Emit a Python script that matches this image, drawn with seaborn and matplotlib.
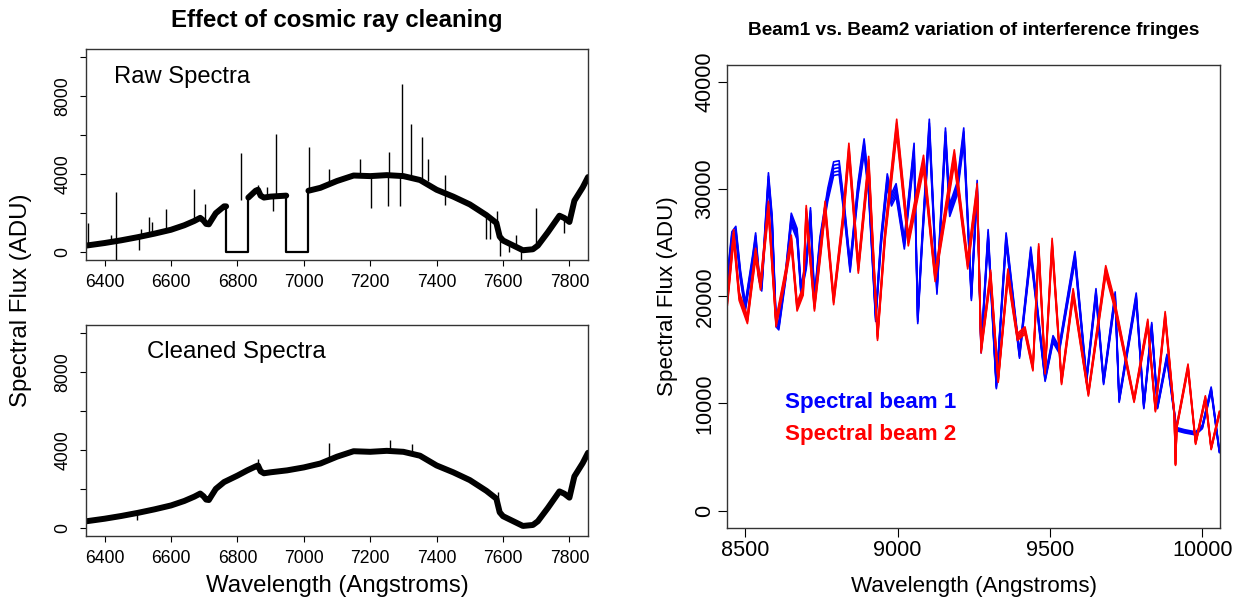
import numpy as np
import pandas as pd
import matplotlib
matplotlib.use("Agg")
import matplotlib.pyplot as plt
import seaborn as sns

# ---------------- data: left panels (continuum of the stellar spectrum) ----------------
cont_w = [6345, 6400, 6450, 6500, 6550, 6600, 6640, 6670, 6688, 6698,
          6706, 6714, 6722, 6735, 6760, 6800, 6830, 6855, 6862, 6870,
          6880, 6900, 6950, 7000, 7050, 7100, 7150, 7200, 7250, 7300,
          7350, 7400, 7450, 7500, 7550, 7580, 7590, 7600, 7630, 7660,
          7690, 7705, 7735, 7770, 7785, 7800, 7815, 7840, 7856]
cont_f = [340, 470, 610, 770, 950, 1150, 1380, 1600, 1760, 1620,
          1450, 1430, 1650, 2000, 2350, 2680, 2950, 3150, 3200, 2900,
          2800, 2850, 2950, 3100, 3300, 3650, 3930, 3900, 3950, 3900,
          3700, 3200, 2850, 2450, 1900, 1500, 800, 600, 350, 100,
          150, 340, 1020, 1870, 1750, 1550, 2640, 3320, 3850]

# zeroed (bad) stretches in the raw frame
gap_start = [6766, 6947]
gap_end = [6833, 7014]
gap_left_level = [2350, 2900]
gap_right_level = [2800, 3150]

# cosmic-ray hits in the raw frame: wavelength, low end, high end
raw_spike_w = [6351, 6420, 6434, 6434, 6504, 6511, 6533, 6543, 6586, 6668,
               6701, 6811, 6862, 6889, 6906, 6917, 7016, 7077, 7168, 7203,
               7257, 7255, 7290, 7296, 7324, 7356, 7374, 7424, 7425, 7548,
               7561, 7581, 7591, 7617, 7640, 7655, 7700, 7783]
raw_spike_lo = [350, 560, 600, -400, 100, 780, 860, 880, 1060, 1600,
                1600, 2700, 3150, 2850, 2100, 2880, 3150, 3500, 3920, 2270,
                3920, 2350, 2390, 3900, 3850, 3700, 3650, 3200, 2440, 690,
                690, 1500, -170, 0, 300, -380, 300, 990]
raw_spike_hi = [1500, 900, 3080, 600, 760, 1200, 1780, 1570, 2220, 3250,
                2450, 5080, 3460, 3330, 2860, 6070, 5380, 4270, 4790, 3920,
                5140, 3920, 3920, 8600, 6580, 5930, 4800, 3970, 3200, 1950,
                1800, 2100, 800, 450, 900, 120, 2250, 1750]

# residual features in the cleaned frame
clean_spike_w = [6498, 6862, 7075, 7261, 7325, 7584]
clean_spike_lo = [390, 3150, 3550, 3950, 3880, 1450]
clean_spike_hi = [780, 3550, 4330, 4500, 4300, 1850]

# ---------------- data: right panel (fringing, two beams) ----------------
beam1_w = [8441, 8456, 8469, 8484, 8500, 8525, 8534, 8544, 8554, 8565,
           8576, 8588, 8601, 8610, 8632, 8651, 8670, 8683, 8700, 8714,
           8727, 8745, 8771, 8790, 8808, 8825, 8844, 8870, 8890, 8905,
           8928, 8945, 8966, 8980, 8995, 9022, 9054, 9066, 9080, 9104,
           9129, 9157, 9171, 9195, 9217, 9242, 9261, 9274, 9297, 9324,
           9356, 9400, 9437, 9484, 9510, 9530, 9582, 9620, 9651, 9676,
           9714, 9727, 9783, 9808, 9834, 9853, 9884, 9915, 9941, 9978,
           10000, 10029, 10056]
beam1_f = [21500, 25500, 26000, 22000, 19000, 23500, 25400, 22100, 20900, 26000,
           30900, 27000, 17500, 17200, 21800, 27200, 25800, 20500, 23000, 27700,
           19600, 25000, 29500, 31900, 32000, 28000, 22700, 30000, 34000, 30000,
           18000, 25000, 30800, 29000, 29900, 24900, 33600, 17800, 25000, 35800,
           20600, 35000, 28000, 30000, 35000, 20000, 30200, 15000, 25700, 11600,
           25400, 14500, 24100, 12300, 16000, 15000, 23700, 12200, 20300, 12000,
           20000, 10300, 19900, 9700, 17200, 9700, 14300, 7600, 7400, 7200,
           7800, 11300, 5500]

beam2_w = [8441, 8462, 8480, 8507, 8525, 8534, 8550, 8576, 8601, 8632,
           8651, 8670, 8690, 8700, 8727, 8750, 8762, 8790, 8820, 8840,
           8871, 8905, 8934, 8959, 8997, 9035, 9085, 9123, 9186, 9230,
           9261, 9274, 9305, 9330, 9362, 9393, 9418, 9444, 9463, 9484,
           9507, 9538, 9576, 9626, 9683, 9710, 9776, 9821, 9846, 9878,
           9908, 9912, 9916, 9953, 9978, 10010, 10029, 10056]
beam2_f = [19500, 25700, 20000, 17800, 22000, 24000, 21000, 28300, 17500, 22000,
           25200, 19000, 20500, 27900, 19000, 25000, 28300, 19600, 27000, 33600,
           22600, 32400, 16200, 25800, 35800, 25200, 32500, 21800, 33000, 23000,
           29900, 15000, 22000, 12200, 22100, 16200, 16800, 13300, 24400, 13000,
           24900, 12000, 20300, 10900, 22400, 19500, 10300, 17500, 9400, 18200,
           9000, 4300, 7800, 13400, 6300, 10500, 5800, 9100]

exposure_level = [0.98, 0.99, 1.0, 1.01, 1.02]

# ---------------- style ----------------
sns.set_style("ticks")
plt.rcParams["font.family"] = ["Liberation Sans", "DejaVu Sans"]
plt.rcParams["axes.linewidth"] = 1.0
plt.rcParams["text.color"] = "black"
plt.rcParams["axes.labelcolor"] = "black"
plt.rcParams["xtick.color"] = "black"
plt.rcParams["ytick.color"] = "black"

W, H = 1242, 599
fig = plt.figure(figsize=(W / 100, H / 100), dpi=100)


def fx(x):
    return x / W


def fy(y):
    return 1 - y / H


ax1 = fig.add_axes([fx(86), fy(260), (588 - 86) / W, (260 - 49.3) / H])
ax2 = fig.add_axes([fx(86), fy(535.7), (588 - 86) / W, (535.7 - 325) / H])
ax3 = fig.add_axes([fx(727.3), fy(527.7), (1220 - 727.3) / W, (527.7 - 64.7) / H])

# ---- raw spectrum: continuum split around the zeroed stretches ----
seg_rows = []
for w, f in zip(cont_w, cont_f):
    inside = any(g0 < w < g1 for g0, g1 in zip(gap_start, gap_end))
    if not inside:
        s = sum(1 for g0 in gap_start if w > g0)
        seg_rows.append((w, f, s))
for i, (g0, g1) in enumerate(zip(gap_start, gap_end)):
    seg_rows.append((g0, gap_left_level[i], i))
    seg_rows.append((g1, gap_right_level[i], i + 1))
raw_df = pd.DataFrame(seg_rows, columns=["w", "flux", "seg"]).sort_values(["seg", "w"])

sns.lineplot(data=raw_df, x="w", y="flux", units="seg", estimator=None, sort=False,
             color="black", lw=4.3, ax=ax1, legend=False)

gap_rows = []
for i, (g0, g1) in enumerate(zip(gap_start, gap_end)):
    gap_rows += [(g0, gap_left_level[i], i), (g0, 0, i), (g1, 0, i),
                 (g1, gap_right_level[i], i)]
gap_df = pd.DataFrame(gap_rows, columns=["w", "flux", "gap"])
sns.lineplot(data=gap_df, x="w", y="flux", units="gap", estimator=None, sort=False,
             color="black", lw=1.6, ax=ax1, legend=False)
ax1.vlines(raw_spike_w, raw_spike_lo, raw_spike_hi, color="black", lw=1.0)

# ---- cleaned spectrum ----
clean_df = pd.DataFrame({"w": cont_w, "flux": cont_f})
sns.lineplot(data=clean_df, x="w", y="flux", estimator=None, sort=False,
             color="black", lw=4.3, ax=ax2, legend=False)
ax2.vlines(clean_spike_w, clean_spike_lo, clean_spike_hi, color="black", lw=1.0)

for ax in (ax1, ax2):
    ax.set_xlim(6344, 7856)
    ax.set_ylim(-400, 10400)
    ax.set_xticks(range(6400, 7801, 200))
    ax.set_xticklabels([str(v) for v in range(6400, 7801, 200)])
    ax.set_yticks(range(0, 10001, 2000))
    ax.set_yticklabels(["0", "", "4000", "", "8000", ""], rotation=90, va="center")
    ax.tick_params(direction="out", length=4.3, width=0.8, labelsize=12.7, pad=6,
                   colors="black")
    ax.set_xlabel("")
    ax.set_ylabel("")
    for sp in ax.spines.values():
        sp.set_visible(True)
        sp.set_color("#333333")

# ---- fringes ----
frames = []
for beam, ws, fs in (("beam1", beam1_w, beam1_f), ("beam2", beam2_w, beam2_f)):
    for j, lev in enumerate(exposure_level):
        frames.append(pd.DataFrame({"w": ws, "flux": np.array(fs) * lev,
                                    "beam": beam, "exposure": f"{beam}_{j}"}))
fr_df = pd.concat(frames, ignore_index=True)
sns.lineplot(data=fr_df, x="w", y="flux", hue="beam", units="exposure",
             estimator=None, sort=False, palette={"beam1": "#0000ff", "beam2": "#ff0000"},
             hue_order=["beam1", "beam2"], lw=1.2, ax=ax3, legend=False)
ax3.set_xlim(8441, 10058)
ax3.set_ylim(-1600, 41600)
ax3.set_xticks([8500, 9000, 9500, 10000])
ax3.set_xticklabels(["8500", "9000", "9500", "10000"])
ax3.set_yticks([0, 10000, 20000, 30000, 40000])
ax3.set_yticklabels(["0", "10000", "20000", "30000", "40000"], rotation=90, va="center")
ax3.tick_params(direction="out", length=6.5, width=0.8, labelsize=15.6, pad=2,
                colors="black")
ax3.set_xlabel("")
ax3.set_ylabel("")
for sp in ax3.spines.values():
    sp.set_visible(True)
    sp.set_color("#333333")

# ---- text ----
fig.text(fx(337), fy(27), "Effect of cosmic ray cleaning", ha="center", va="baseline",
         fontsize=17.3, fontweight="bold", color="black")
fig.text(fx(973.6), fy(35), "Beam1 vs. Beam2 variation of interference fringes",
         ha="center", va="baseline", fontsize=13.7, fontweight="bold", color="black")
fig.text(fx(337), fy(592), "Wavelength (Angstroms)", ha="center", va="baseline",
         fontsize=17.3, color="black")
fig.text(fx(973.6), fy(592), "Wavelength (Angstroms)", ha="center", va="baseline",
         fontsize=16.1, color="black")
fig.text(fx(27), fy(300), "Spectral Flux (ADU)", ha="center", va="baseline",
         rotation=90, rotation_mode="anchor", fontsize=17.3, color="black")
fig.text(fx(672.7), fy(296), "Spectral Flux (ADU)", ha="center", va="baseline",
         rotation=90, rotation_mode="anchor", fontsize=16.1, color="black")
fig.text(fx(114.3), fy(83.3), "Raw Spectra", ha="left", va="baseline", fontsize=17.1,
         color="black")
fig.text(fx(146.7), fy(358.3), "Cleaned Spectra", ha="left", va="baseline", fontsize=17.3,
         color="black")
fig.text(fx(785), fy(408.3), "Spectral beam 1", ha="left", va="baseline",
         fontsize=16.1, fontweight="bold", color="#0000ff")
fig.text(fx(785), fy(440), "Spectral beam 2", ha="left", va="baseline",
         fontsize=16.1, fontweight="bold", color="#ff0000")

fig.savefig("out.png", dpi=100)
